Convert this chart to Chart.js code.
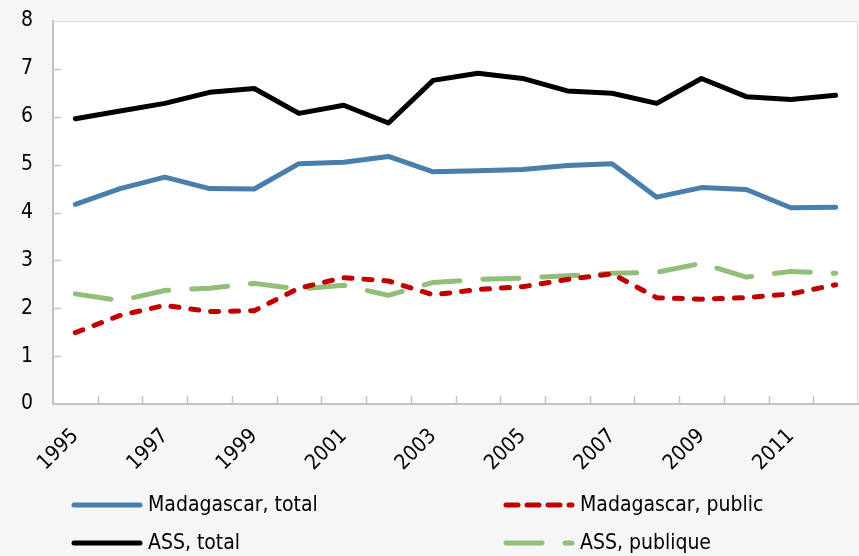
<!DOCTYPE html>
<html>
<head>
<meta charset="utf-8">
<script src="https://cdn.jsdelivr.net/npm/chart.js@4.4.1/dist/chart.umd.min.js"></script>
<style>
  html, body { margin: 0; padding: 0; background: #f6f6f6; }
  #wrap { width: 859px; height: 556px; }
</style>
</head>
<body>
<div id="wrap"><canvas id="c" width="859" height="556"></canvas></div>
<script>
const years = ['1995','1996','1997','1998','1999','2000','2001','2002','2003',
               '2004','2005','2006','2007','2008','2009','2010','2011','2012'];

const madaTotal  = [4.17, 4.50, 4.74, 4.50, 4.49, 5.02, 5.05, 5.17, 4.85, 4.87, 4.90, 4.98, 5.02, 4.32, 4.52, 4.48, 4.10, 4.11];
const madaPublic = [1.49, 1.85, 2.06, 1.93, 1.95, 2.42, 2.64, 2.57, 2.28, 2.39, 2.45, 2.60, 2.72, 2.22, 2.19, 2.22, 2.30, 2.49];
const assTotal   = [5.96, 6.12, 6.28, 6.51, 6.59, 6.07, 6.24, 5.87, 6.76, 6.91, 6.80, 6.54, 6.49, 6.28, 6.80, 6.42, 6.36, 6.45];
const assPublic  = [2.30, 2.16, 2.37, 2.42, 2.52, 2.40, 2.48, 2.27, 2.54, 2.60, 2.63, 2.68, 2.73, 2.75, 2.94, 2.65, 2.77, 2.73];

const seriesNames = ['Madagascar, total', 'Madagascar, public', 'ASS, total', 'ASS, publique'];

const FONT = "'Liberation Sans Narrow', 'DejaVu Sans Condensed', sans-serif";

// background, plot frame and inward tick marks
const frame = {
  id: 'frame',
  beforeDraw(chart) {
    const { ctx, chartArea: a } = chart;
    ctx.save();
    ctx.fillStyle = '#f6f6f6';
    ctx.fillRect(0, 0, chart.width, chart.height);
    ctx.fillStyle = '#ffffff';
    ctx.fillRect(a.left, a.top, a.right - a.left, a.bottom - a.top);
    ctx.strokeStyle = '#d9d9d9';
    ctx.lineWidth = 1;
    ctx.strokeRect(a.left + 0.5, a.top + 0.5, a.right - a.left - 1, a.bottom - a.top);
    ctx.restore();
  },
  beforeDatasetsDraw(chart) {
    const { ctx, chartArea: a, scales: { x, y } } = chart;
    ctx.save();
    ctx.strokeStyle = '#c4c4c4';
    ctx.lineWidth = 1.5;
    ctx.beginPath();
    for (let i = 1; i < years.length; i++) {
      const px = Math.round((x.getPixelForValue(i - 1) + x.getPixelForValue(i)) / 2) + 0.5;
      ctx.moveTo(px, a.bottom);
      ctx.lineTo(px, a.bottom - 8);
    }
    for (let v = 1; v < 8; v++) {
      const py = Math.round(y.getPixelForValue(v)) + 0.5;
      ctx.moveTo(a.left, py);
      ctx.lineTo(a.left + 8, py);
    }
    ctx.stroke();
    ctx.restore();
  }
};

// two-column legend under the axis
const legend2 = {
  id: 'legend2',
  afterDraw(chart) {
    const { ctx } = chart;
    const cols = [71, 503];
    const rows = [505, 543];
    chart.data.datasets.forEach((ds, i) => {
      const lx = cols[i % 2];
      const ly = rows[Math.floor(i / 2)];
      ctx.save();
      ctx.strokeStyle = ds.borderColor;
      ctx.lineWidth = 5;
      ctx.lineCap = 'round';
      ctx.setLineDash(ds.legendDash || ds.borderDash || []);
      ctx.beginPath();
      ctx.moveTo(lx + 3, ly);
      ctx.lineTo(lx + 69, ly);
      ctx.stroke();
      ctx.setLineDash([]);
      ctx.fillStyle = '#000';
      ctx.font = '21px ' + FONT;
      ctx.textBaseline = 'middle';
      ctx.fillText(ds.label, lx + 77, ly + 1);
      ctx.restore();
    });
  }
};

new Chart(document.getElementById('c'), {
  type: 'line',
  data: {
    labels: years,
    datasets: [
      { label: seriesNames[0], data: madaTotal, borderColor: '#4a7eab', borderWidth: 5,
        borderJoinStyle: 'round', borderCapStyle: 'round' },
      { label: seriesNames[1], data: madaPublic, borderColor: '#c00000', borderWidth: 5,
        borderDash: [8, 12], borderCapStyle: 'round', borderJoinStyle: 'round', legendDash: [12, 9] },
      { label: seriesNames[2], data: assTotal, borderColor: '#000000', borderWidth: 5,
        borderJoinStyle: 'round', borderCapStyle: 'round' },
      { label: seriesNames[3], data: assPublic, borderColor: '#93be7a', borderWidth: 5,
        borderDash: [36, 23], borderCapStyle: 'round', borderJoinStyle: 'round' }
    ]
  },
  options: {
    responsive: false,
    animation: false,
    devicePixelRatio: 1,
    layout: { padding: { top: 21, right: 1, bottom: 80, left: 0 } },
    elements: { point: { radius: 0 }, line: { tension: 0 } },
    plugins: { legend: { display: false }, tooltip: { enabled: false } },
    scales: {
      x: {
        type: 'category',
        offset: true,
        grid: { display: false, drawTicks: false },
        border: { display: true, color: '#c4c4c4', width: 2 },
        ticks: {
          autoSkip: false, maxRotation: 45, minRotation: 45, padding: 20,
          color: '#000', font: { size: 21, family: FONT },
          callback: (v, i) => (i % 2 === 0 ? years[i] : '')
        },
        afterFit: s => { s.height = 72; s.paddingLeft = 0; s.paddingRight = 0; }
      },
      y: {
        min: 0, max: 8,
        grid: { display: false, drawTicks: false },
        border: { display: true, color: '#c4c4c4', width: 2 },
        ticks: { stepSize: 1, padding: 20, color: '#000', font: { size: 21, family: FONT } },
        afterFit: s => { s.width = 53; s.paddingTop = 0; s.paddingBottom = 0; }
      }
    }
  },
  plugins: [frame, legend2]
});
</script>
</body>
</html>
